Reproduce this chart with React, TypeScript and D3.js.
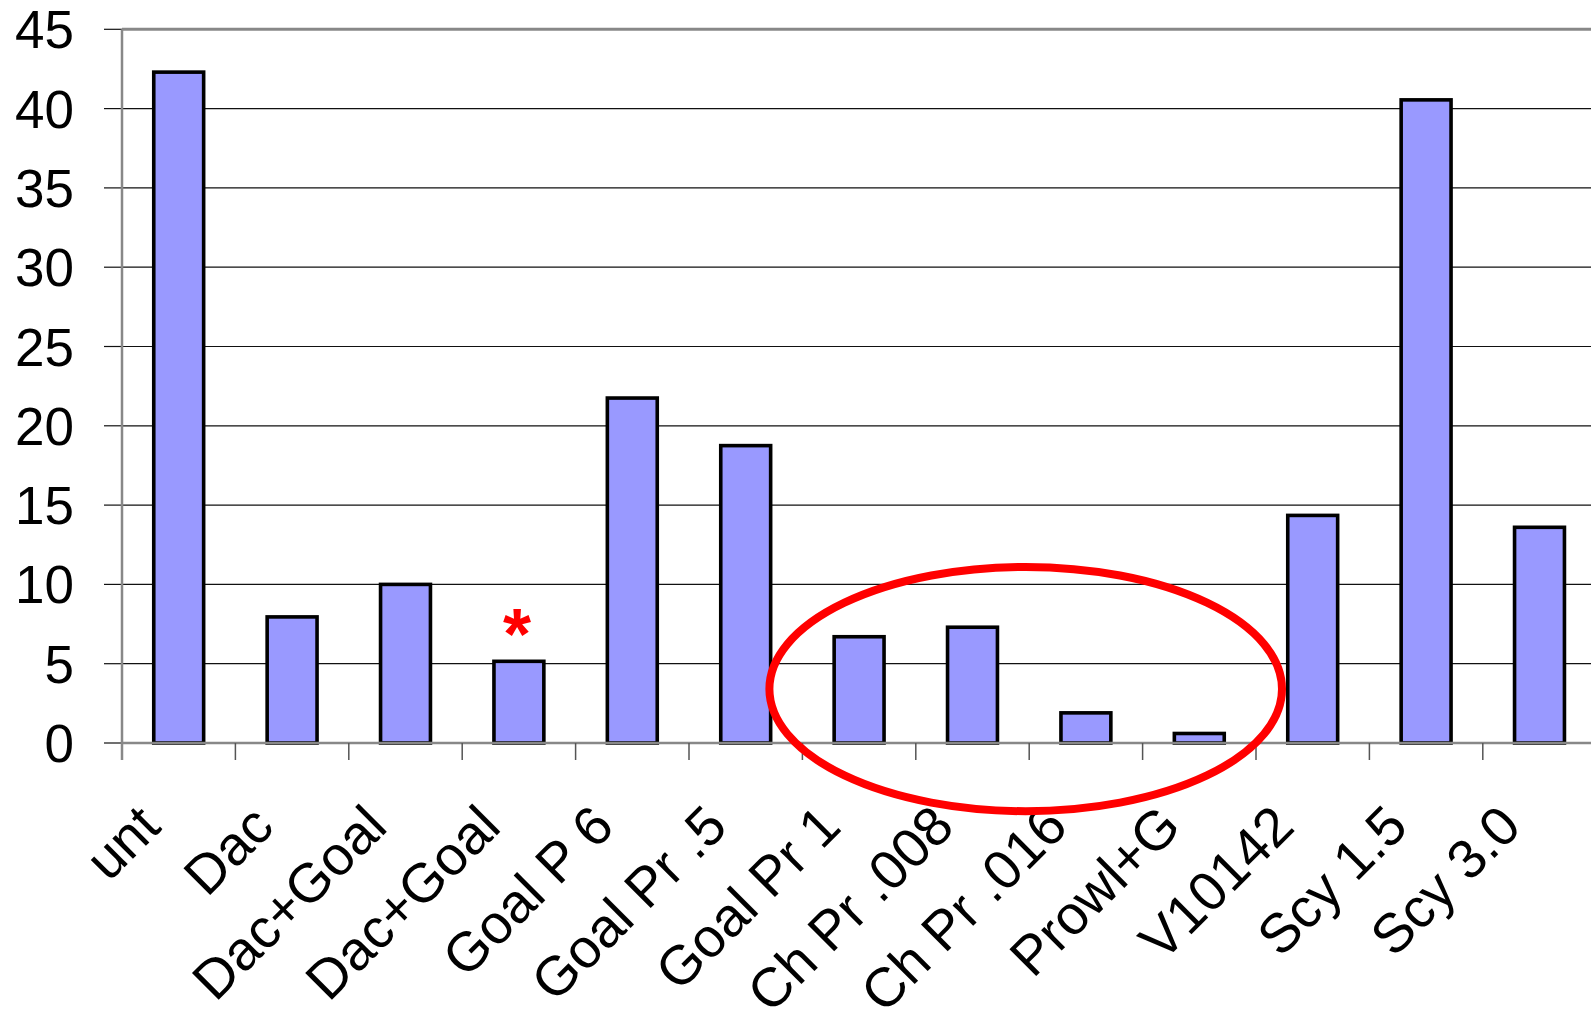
import * as d3 from 'd3'
import React from 'react'

// chart data
const categories = ['unt', 'Dac', 'Dac+Goal', 'Dac+Goal', 'Goal P 6', 'Goal Pr .5', 'Goal Pr 1', 'Ch Pr .008', 'Ch Pr .016', 'Prowl+G', 'V10142', 'Scy 1.5', 'Scy 3.0']
const values = [42.3, 7.95, 10.0, 5.15, 21.75, 18.75, 6.7, 7.3, 1.9, 0.6, 14.35, 40.55, 13.6]
const yTicks = [0, 5, 10, 15, 20, 25, 30, 35, 40, 45]
const starredIndex = 3
const circledFrom = 6
const circledTo = 9

const W = 1591
const H = 1014
const left = 122
const top = 29.3
const plotH = 713.7
const plotW = 13 * 113.4
const font = 'Arial, "Liberation Sans", sans-serif'

const App = () => {
  const idx = categories.map((_, i) => String(i))
  const x = d3.scaleBand().domain(idx).range([0, plotW])
  const y = d3.scaleLinear().domain([0, 45]).range([plotH, 0])
  const barW = x.bandwidth() * 0.44

  // ellipse around the low-value group
  const ex0 = x(String(circledFrom))! - 33
  const ex1 = x(String(circledTo))! + x.bandwidth() + 26
  const ecx = (ex0 + ex1) / 2
  const erx = (ex1 - ex0) / 2
  const ecy = y(3.4)
  const ery = y(0) - y(7.7)

  const starX = x(String(starredIndex))! + x.bandwidth() / 2 - 2
  const starY = y(values[starredIndex])

  return (
    <div>
      <style>{'body{margin:0}'}</style>
      <svg width={W} height={H} style={{ display: 'block', background: '#fff' }}>
        <g transform={`translate(${left},${top})`}>
          {/* gridlines */}
          {yTicks.filter((t) => t > 0 && t < 45).map((t) => (
            <line key={t} x1={0} x2={plotW} y1={y(t)} y2={y(t)} stroke='#111' strokeWidth={1.2} />
          ))}
          {/* top border */}
          <line x1={0} x2={plotW} y1={0} y2={0} stroke='#888' strokeWidth={3} />
          {/* y ticks + labels */}
          {yTicks.map((t) => (
            <g key={t} transform={`translate(0,${y(t)})`}>
              <line x1={-18} x2={0} stroke='#111' strokeWidth={1.2} />
              <text x={-48} dy='0.36em' textAnchor='end' fontFamily={font} fontSize={53} fill='#000'>{t}</text>
            </g>
          ))}
          {/* bars */}
          {values.map((v, i) => (
            <rect
              key={i}
              x={x(String(i))! + (x.bandwidth() - barW) / 2}
              y={y(v)}
              width={barW}
              height={y(0) - y(v)}
              fill='#9999FF'
              stroke='#000'
              strokeWidth={3.6}
            />
          ))}
          {/* x axis */}
          <line x1={0} x2={plotW} y1={plotH} y2={plotH} stroke='#888' strokeWidth={2.5} />
          {d3.range(categories.length + 1).map((i) => (
            <line key={i} x1={i * x.step()} x2={i * x.step()} y1={plotH} y2={plotH + 17} stroke='#555' strokeWidth={1.5} />
          ))}
          {/* y axis */}
          <line x1={0} x2={0} y1={0} y2={plotH + 17} stroke='#888' strokeWidth={2.5} />
          {/* x labels */}
          {categories.map((c, i) => (
            <text
              key={i}
              transform={`translate(${x(String(i))! + x.bandwidth() / 2 - 16},${plotH + 86}) rotate(-45)`}
              textAnchor='end'
              fontFamily={font}
              fontSize={55}
              fill='#000'
            >
              {c}
            </text>
          ))}
          {/* annotations */}
          <text x={starX} y={starY - 2} textAnchor='middle' fontFamily={font} fontWeight='bold' fontSize={72} fill='#ff0000'>*</text>
          <ellipse cx={ecx} cy={ecy} rx={erx} ry={ery} fill='none' stroke='#ff0000' strokeWidth={8} />
        </g>
      </svg>
    </div>
  )
}

export default App
